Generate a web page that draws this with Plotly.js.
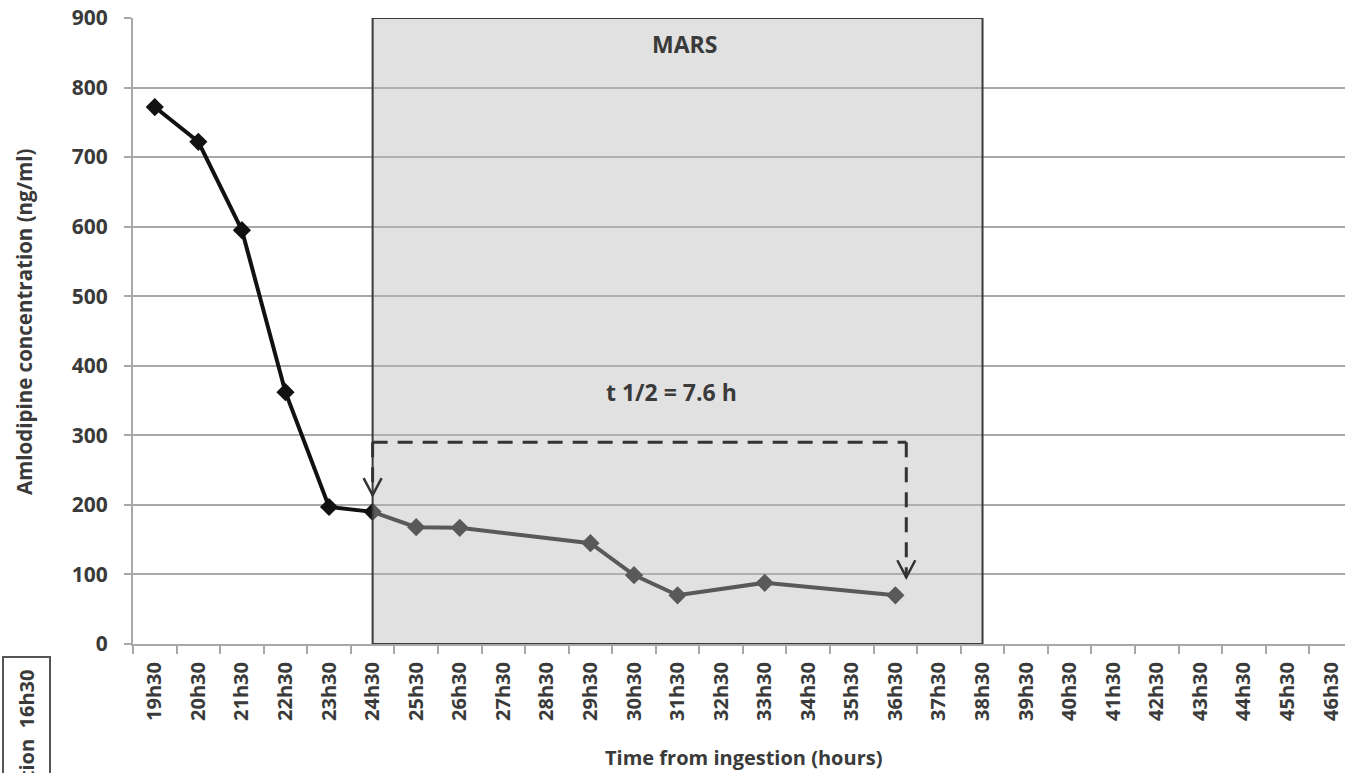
<!DOCTYPE html>
<html>
<head>
<meta charset="utf-8">
<script src="https://cdn.plot.ly/plotly-3.0.1.min.js"></script>
<style>html,body{margin:0;padding:0;background:#fff;}#chart{width:1345px;height:773px;}</style>
</head>
<body>
<div id="chart"></div>
<script>
// ---- data ----
const categories = ['19h30','20h30','21h30','22h30','23h30','24h30','25h30','26h30','27h30','28h30',
  '29h30','30h30','31h30','32h30','33h30','34h30','35h30','36h30','37h30','38h30',
  '39h30','40h30','41h30','42h30','43h30','44h30','45h30','46h30'];
const sampleTimes = ['19h30','20h30','21h30','22h30','23h30','24h30','25h30','26h30','29h30','30h30','31h30','33h30','36h30'];
const concentration = [772, 722, 595, 362, 197, 190, 168, 167, 145, 99, 70, 88, 70];
const yTicks = [0, 100, 200, 300, 400, 500, 600, 700, 800, 900];
const marsStart = '24h30';
const marsEnd = '38h30';
const halfLifeLevel = 290;     // top of dashed bracket
const halfLifeStartTip = 214;  // left arrow tip value
const halfLifeEndTip = 96;     // right arrow tip value
const halfLifeEndPos = 17.25;  // right arrow position (category index)
const halfLifeLabel = 't 1/2 = 7.6 h';
const marsLabel = 'MARS';
const ingestionLabel = 'Ingestion  16h30';

// ---- layout helpers ----
const W = 1345, H = 773;
const M = {l: 133, r: 0, t: 18, b: 129};
const pw = W - M.l - M.r, ph = H - M.t - M.b;
const px2x = p => (p - M.l) / pw;
const px2y = p => (H - M.b - p) / ph;
const idx = c => categories.indexOf(c);

const FONT = 'Open Sans, Lato, sans-serif';
const TXT = '#3a3a3a';
const GRID = '#a8a8a8';
const DASH = '#333333';

const trace = {
  type: 'scatter', mode: 'lines+markers',
  x: sampleTimes, y: concentration,
  line: {color: '#111111', width: 4},
  marker: {symbol: 'diamond', size: 14, color: '#111111'},
  hoverinfo: 'x+y', showlegend: false
};

const sx = idx(marsStart), ex = idx(marsEnd);
const chevron = (xa, ya) => ({
  type: 'path', xref: 'x', yref: 'y', layer: 'above',
  xsizemode: 'pixel', ysizemode: 'pixel', xanchor: xa, yanchor: ya,
  path: 'M-9,17 L0,0 L9,17',
  line: {color: DASH, width: 2.5}, fillcolor: 'rgba(0,0,0,0)'
});

const shapes = [
  {type: 'rect', xref: 'x', yref: 'y', x0: sx, x1: ex, y0: 0, y1: 900, layer: 'above',
   fillcolor: 'rgba(186,186,186,0.43)', line: {color: '#3a3a3a', width: 2}},
  {type: 'line', xref: 'x', yref: 'y', x0: sx, x1: halfLifeEndPos, y0: halfLifeLevel, y1: halfLifeLevel,
   layer: 'above', line: {color: DASH, width: 3, dash: '15px,10px'}},
  {type: 'line', xref: 'x', yref: 'y', x0: sx, x1: sx, y0: halfLifeLevel, y1: halfLifeStartTip,
   layer: 'above', line: {color: DASH, width: 3, dash: '15px,10px'}},
  {type: 'line', xref: 'x', yref: 'y', x0: halfLifeEndPos, x1: halfLifeEndPos, y0: halfLifeLevel, y1: halfLifeEndTip,
   layer: 'above', line: {color: DASH, width: 3, dash: '15px,10px'}},
  chevron(sx, halfLifeStartTip),
  chevron(halfLifeEndPos, halfLifeEndTip),
  // cut-off box at bottom-left
  {type: 'rect', xref: 'paper', yref: 'paper', x0: px2x(3), x1: px2x(50), y0: px2y(657), y1: px2y(800),
   line: {color: '#555555', width: 2}, fillcolor: 'rgba(0,0,0,0)'}
];

const annotations = [
  {xref: 'x', yref: 'y', x: 12.15, y: 863, text: marsLabel, showarrow: false,
   font: {family: FONT, size: 23, color: TXT, weight: 700}},
  {xref: 'x', yref: 'y', x: 11.85, y: 362, text: halfLifeLabel, showarrow: false,
   font: {family: FONT, size: 23, color: TXT, weight: 700}},
  {xref: 'paper', yref: 'paper', x: px2x(743), y: px2y(757), text: 'Time from ingestion (hours)', showarrow: false,
   xanchor: 'center', yanchor: 'middle', font: {family: FONT, size: 20, color: TXT, weight: 700}},
  {xref: 'paper', yref: 'paper', x: px2x(24), y: px2y(322), text: 'Amlodipine concentration (ng/ml)', showarrow: false,
   textangle: -90, xanchor: 'center', yanchor: 'middle', font: {family: FONT, size: 20.5, color: TXT, weight: 700}},
  {xref: 'paper', yref: 'paper', x: px2x(26), y: px2y(668), text: ingestionLabel, showarrow: false,
   textangle: -90, xanchor: 'center', yanchor: 'top', font: {family: FONT, size: 20, color: TXT, weight: 700}}
];

const layout = {
  width: W, height: H, margin: M,
  paper_bgcolor: '#ffffff', plot_bgcolor: '#ffffff',
  showlegend: false,
  xaxis: {
    type: 'category', categoryorder: 'array', categoryarray: categories,
    range: [-0.5, 27.32], tickson: 'boundaries', ticks: 'outside', ticklen: 8,
    tickcolor: GRID, tickwidth: 2, showline: true, linecolor: GRID, linewidth: 2,
    showgrid: false, zeroline: false, tickangle: -90, ticklabelstandoff: 8,
    tickfont: {family: FONT, size: 20, color: TXT, weight: 700}
  },
  yaxis: {
    range: [0, 900], tickvals: yTicks, ticktext: yTicks.map(String),
    showgrid: true, gridcolor: GRID, gridwidth: 2,
    showline: true, linecolor: GRID, linewidth: 2, zeroline: false,
    ticks: 'outside', ticklen: 7, tickcolor: GRID, tickwidth: 2, ticklabelstandoff: 12,
    tickfont: {family: FONT, size: 21, color: TXT, weight: 700}
  },
  shapes: shapes,
  annotations: annotations
};

Plotly.newPlot('chart', [trace], layout, {displayModeBar: false, staticPlot: true});
</script>
</body>
</html>
